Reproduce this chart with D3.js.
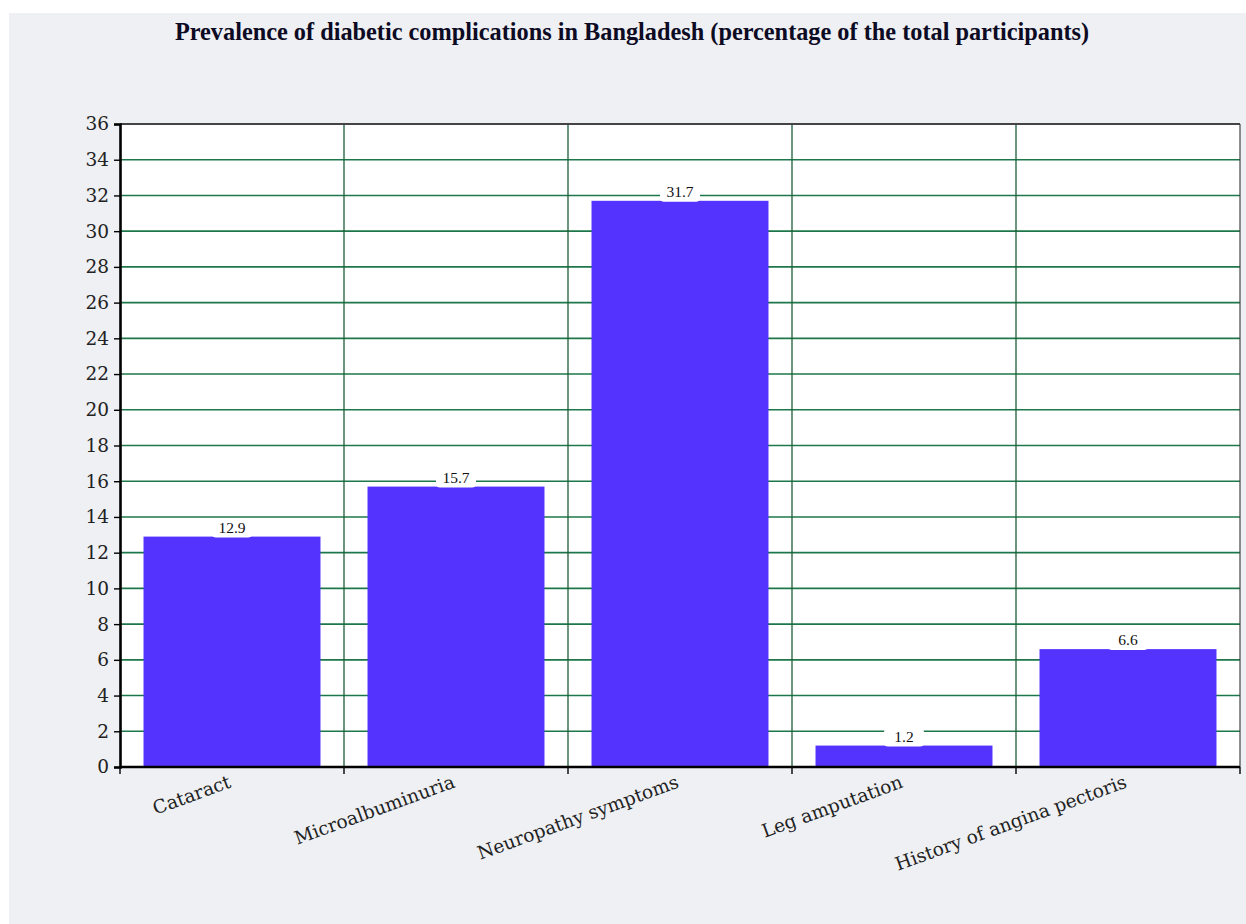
<!DOCTYPE html>
<html>
<head>
<meta charset="utf-8">
<script src="https://cdn.jsdelivr.net/npm/d3@7"></script>
<style>
  html, body { margin: 0; padding: 0; background: #ffffff; }
  svg { display: block; }
</style>
</head>
<body>
<svg id="chart" width="1246" height="924"></svg>
<script>
// Complications and their prevalence (% of all participants)
const categories = ["Cataract", "Microalbuminuria", "Neuropathy symptoms", "Leg amputation", "History of angina pectoris"];
const prevalence = [12.9, 15.7, 31.7, 1.2, 6.6];
const yTicks = [0, 2, 4, 6, 8, 10, 12, 14, 16, 18, 20, 22, 24, 26, 28, 30, 32, 34, 36];
const title = "Prevalence of diabetic complications in Bangladesh (percentage of the total participants)";

const svg = d3.select("#chart");
const W = 1246, H = 924;
const margin = { left: 120, right: 6, top: 124, bottom: 157 };
const plotW = W - margin.left - margin.right;
const plotH = H - margin.top - margin.bottom;

// Panel background
svg.append("rect").attr("x", 9).attr("y", 13).attr("width", W - 9).attr("height", H - 13)
  .attr("fill", "#eef0f3");

svg.append("text")
  .attr("x", 632).attr("y", 40)
  .attr("text-anchor", "middle")
  .attr("font-family", "'Liberation Serif', 'Times New Roman', serif")
  .attr("font-weight", "bold")
  .attr("font-size", 24.3)
  .attr("fill", "#0d0a24")
  .text(title);

const g = svg.append("g").attr("transform", `translate(${margin.left},${margin.top})`);

const x = d3.scaleBand().domain(categories).range([0, plotW]).paddingInner(0.21).paddingOuter(0.105);
const xb = d3.scaleBand().domain(categories).range([0, plotW]);
const y = d3.scaleLinear().domain([0, 36]).range([plotH, 0]);

// Plot area
g.append("rect").attr("width", plotW).attr("height", plotH).attr("fill", "#ffffff");

const gridColor = "#1d774a";
// Horizontal grid
g.append("g").selectAll("line").data(yTicks.filter(v => v > 0 && v < 36)).join("line")
  .attr("x1", 0).attr("x2", plotW)
  .attr("y1", d => y(d)).attr("y2", d => y(d))
  .attr("stroke", gridColor).attr("stroke-width", 1.6);
// Vertical grid at category boundaries
g.append("g").selectAll("line").data(categories.slice(1)).join("line")
  .attr("x1", d => xb(d)).attr("x2", d => xb(d))
  .attr("y1", 0).attr("y2", plotH)
  .attr("stroke", "#1b5e3a").attr("stroke-width", 1.3);

// Frame top and right
g.append("line").attr("x1", 0).attr("x2", plotW).attr("y1", 0).attr("y2", 0)
  .attr("stroke", "#444444").attr("stroke-width", 1.8);
g.append("line").attr("x1", plotW).attr("x2", plotW).attr("y1", 0).attr("y2", plotH)
  .attr("stroke", "#444444").attr("stroke-width", 1.2);

// Bars
g.append("g").selectAll("rect").data(categories).join("rect")
  .attr("x", d => x(d))
  .attr("y", (d, i) => y(prevalence[i]))
  .attr("width", x.bandwidth())
  .attr("height", (d, i) => plotH - y(prevalence[i]))
  .attr("fill", "#5533ff");

// Value labels with white box
const labels = g.append("g").selectAll("g").data(categories).join("g")
  .attr("transform", (d, i) => `translate(${x(d) + x.bandwidth() / 2},${y(prevalence[i])})`);
labels.append("rect")
  .attr("x", -20).attr("y", -17).attr("width", 40).attr("height", 18).attr("rx", 4)
  .attr("fill", "#ffffff");
labels.append("text")
  .attr("y", -4)
  .attr("text-anchor", "middle")
  .attr("font-family", "'Liberation Serif', 'Times New Roman', serif")
  .attr("font-size", 15.5)
  .attr("fill", "#111111")
  .text((d, i) => prevalence[i]);

// Y axis
const yAxis = g.append("g").call(d3.axisLeft(y).tickValues(yTicks).tickSize(6).tickPadding(5).tickFormat(d3.format("d")));
yAxis.select(".domain").attr("stroke", "#000").attr("stroke-width", 2.6);
yAxis.selectAll(".tick line").attr("stroke", "#000").attr("stroke-width", 1.4);
yAxis.selectAll(".tick text")
  .attr("font-family", "'DejaVu Serif', serif")
  .attr("font-size", 18.5).attr("fill", "#222");

// X axis: ticks at category boundaries
const bounds = categories.map(c => xb(c)).concat([plotW]);
const xAxisG = g.append("g").attr("transform", `translate(0,${plotH})`);
xAxisG.append("line").attr("x1", 0).attr("x2", plotW).attr("stroke", "#000").attr("stroke-width", 2.6);
xAxisG.selectAll("line.tk").data(bounds).join("line").attr("class", "tk")
  .attr("x1", d => d).attr("x2", d => d).attr("y1", 0).attr("y2", 7)
  .attr("stroke", "#000").attr("stroke-width", 1.4);
xAxisG.selectAll("text").data(categories).join("text")
  .attr("text-anchor", "end")
  .attr("transform", d => `translate(${xb(d) + xb.bandwidth() / 2},${20}) rotate(-20)`)
  .attr("font-family", "'DejaVu Serif', serif")
  .attr("font-size", 18.5)
  .attr("fill", "#222")
  .text(d => d);
</script>
</body>
</html>
